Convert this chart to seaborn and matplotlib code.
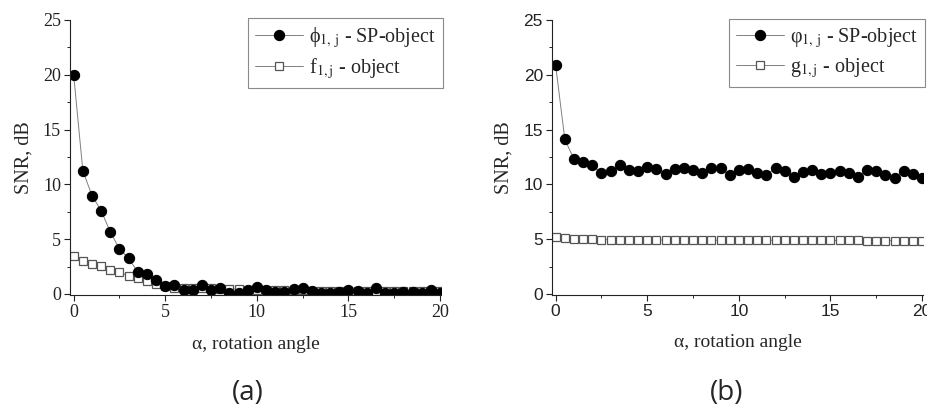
import numpy as np
import pandas as pd
import matplotlib
matplotlib.use("Agg")
import matplotlib.pyplot as plt
import seaborn as sns
from matplotlib.ticker import MultipleLocator

# ---- data ----
alpha = [i * 0.5 for i in range(41)]

phi_a = [20.0, 11.25, 8.97, 7.6, 5.65, 4.1, 3.25, 1.98, 1.82, 1.28,
         0.7, 0.82, 0.4, 0.4, 0.85, 0.4, 0.5, 0.1, 0.1, 0.4,
         0.65, 0.35, 0.2, 0.2, 0.45, 0.5, 0.25, 0.1, 0.1, 0.2,
         0.4, 0.25, 0.1, 0.5, 0.1, 0.1, 0.2, 0.2, 0.1, 0.4, 0.1]
f_a = [3.43, 3.04, 2.77, 2.52, 2.22, 1.98, 1.67, 1.43, 1.15, 0.91,
       0.7, 0.55, 0.55, 0.5, 0.5, 0.5, 0.45, 0.45, 0.45, 0.4,
       0.4, 0.4, 0.35, 0.35, 0.35, 0.35, 0.3, 0.3, 0.3, 0.3,
       0.3, 0.3, 0.3, 0.25, 0.25, 0.25, 0.25, 0.25, 0.25, 0.25, 0.25]

phi_b = [20.85, 14.1, 12.3, 12.03, 11.76, 11.0, 11.18, 11.73, 11.33, 11.18,
         11.58, 11.4, 10.94, 11.36, 11.5, 11.3, 11.03, 11.45, 11.45, 10.85,
         11.3, 11.42, 11.06, 10.88, 11.45, 11.18, 10.7, 11.12, 11.33, 10.9,
         11.0, 11.2, 11.0, 10.64, 11.3, 11.2, 10.85, 10.6, 11.24, 10.9, 10.55]
g_b = [5.2, 5.06, 5.03, 5.05, 5.0, 4.95, 4.95, 4.95, 4.93, 4.93,
       4.93, 4.93, 4.92, 4.92, 4.92, 4.92, 4.9, 4.9, 4.9, 4.9,
       4.9, 4.9, 4.9, 4.9, 4.9, 4.9, 4.9, 4.9, 4.88, 4.88,
       4.88, 4.88, 4.88, 4.88, 4.87, 4.87, 4.87, 4.86, 4.86, 4.85, 4.85]

xticks = [0, 5, 10, 15, 20]
yticks = [0, 5, 10, 15, 20, 25]
xlabel = "α, rotation angle"
ylabel = "SNR, dB"
labels_a = ["ϕ$_{1,\\,\\mathrm{j}}$ - SP-object", "f$_{1,\\mathrm{j}}$ - object"]
labels_b = ["φ$_{1,\\,\\mathrm{j}}$ - SP-object", "g$_{1,\\mathrm{j}}$ - object"]
panel_tags = ["(a)", "(b)"]

# ---- style ----
sns.set_style("ticks")
plt.rcParams["mathtext.fontset"] = "stix"
plt.rcParams["font.family"] = ["Liberation Serif", "DejaVu Serif"]

W, H = 927, 411
fig = plt.figure(figsize=(W / 100, H / 100), dpi=100)

def frac_box(x0, x1, ytop, ybot):
    return [x0 / W, 1 - ybot / H, (x1 - x0) / W, (ybot - ytop) / H]

ax_a = fig.add_axes(frac_box(70, 441, 20, 295))
ax_b = fig.add_axes(frac_box(552, 923, 20, 295))

line_col = "#808080"
serif = ["Liberation Serif", "DejaVu Serif"]

def draw(ax, xs, circ, sq, labels, tickfont, ticksize, legend_anchor):
    df = pd.DataFrame({"alpha": xs, "circ": circ, "sq": sq})
    sns.lineplot(data=df, x="alpha", y="sq", ax=ax, color=line_col, lw=0.7,
                 marker="s", markersize=6.2, markerfacecolor="white",
                 markeredgecolor="#555555", markeredgewidth=0.9, label=labels[1])
    sns.lineplot(data=df, x="alpha", y="circ", ax=ax, color=line_col, lw=0.7,
                 marker="o", markersize=7.4, markerfacecolor="black",
                 markeredgecolor="black", label=labels[0])
    ax.set_xlim(-0.2, 20.05)
    ax.set_ylim(-0.1, 25)
    ax.set_xticks(xticks)
    ax.set_yticks(yticks)
    ax.xaxis.set_minor_locator(MultipleLocator(2.5))
    ax.yaxis.set_minor_locator(MultipleLocator(2.5))
    ax.tick_params(which="major", length=4, width=0.8, color="#222222", pad=2.5)
    ax.tick_params(which="minor", length=2.5, width=0.7, color="#222222")
    for lab in ax.get_xticklabels() + ax.get_yticklabels():
        lab.set_fontfamily(tickfont)
        lab.set_fontsize(ticksize)
        lab.set_color("#222222")
    ax.set_xlabel(xlabel, fontsize=14, fontfamily=serif, labelpad=11)
    ax.set_ylabel(ylabel, fontsize=14.5, fontfamily=serif, labelpad=7)
    sns.despine(ax=ax)
    for s in ["left", "bottom"]:
        ax.spines[s].set_linewidth(0.8)
        ax.spines[s].set_color("#222222")
    h, l = ax.get_legend_handles_labels()
    ax.legend([h[1], h[0]], [l[1], l[0]], loc="upper right",
              bbox_to_anchor=legend_anchor, bbox_transform=fig.transFigure,
              fancybox=False, edgecolor="#8a8a8a", framealpha=1,
              prop={"family": serif, "size": 14.5},
              handlelength=2.4, handletextpad=0.3, labelspacing=0.3,
              borderpad=0.35, borderaxespad=0)
    ax.get_legend().get_frame().set_linewidth(0.8)

draw(ax_a, alpha, phi_a, f_a, labels_a, "Liberation Serif", 13, (443 / W, 1 - 18 / H))
draw(ax_b, alpha, phi_b, g_b, labels_b, "Liberation Sans", 12.5, (925 / W, 1 - 19 / H))

fig.text(248 / W, 1 - 393 / H, panel_tags[0], ha="center", va="center",
         fontsize=20, fontfamily="Open Sans")
fig.text(727 / W, 1 - 393 / H, panel_tags[1], ha="center", va="center",
         fontsize=20, fontfamily="Open Sans")

fig.savefig("out.png", dpi=100)
